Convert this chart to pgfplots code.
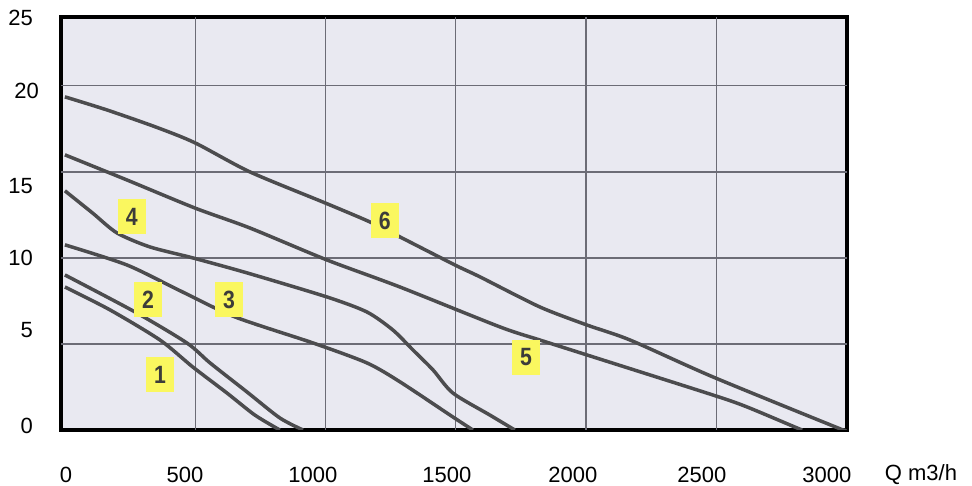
\documentclass[border=0pt]{standalone}
\usepackage{pgfplots}
\pgfplotsset{compat=1.18}
\usepackage{fontspec}
\setmainfont{Liberation Sans}

\definecolor{paper}{RGB}{233,233,241}
\definecolor{gridc}{RGB}{108,108,118}
\definecolor{curve}{RGB}{76,76,78}
\definecolor{tag}{RGB}{250,247,95}
\definecolor{tagtxt}{RGB}{60,60,58}

\newcommand{\tagnum}[1]{\scalebox{0.85}[1]{\bfseries #1}}
\tikzset{tagbox/.style={fill=tag, minimum width=28pt, minimum height=35pt,
    inner sep=0pt, text=tagtxt, font=\fontsize{25}{25}\selectfont}}
\pgfplotsset{pump/.style={curve, line width=3.5pt, smooth, tension=0.45}}

\begin{document}
\begin{tikzpicture}
\useasboundingbox (-61.5pt,-56pt) rectangle (910.5pt,430pt);
\begin{axis}[
    at={(0,0)}, anchor=south west,
    scale only axis, width=785.5pt, height=413pt,
    xmin=-13, xmax=3002, ymin=0, ymax=24,
    axis background/.style={fill=paper},
    axis line style={line width=4pt, black},
    major tick length=0pt,
    xtick={4,461,952,1466,1950,2445,2925},
    xticklabels={0,500,1000,1500,2000,2500,3000},
    ytick={0.23,5.81,10,14.19,19.7,23.95},
    yticklabels={0,5,10,15,20\hspace*{-6pt},25},
    xticklabel style={font=\fontsize{22}{26}\selectfont, anchor=center, yshift=-45pt},
    yticklabel style={font=\fontsize{22}{26}\selectfont, anchor=east, inner sep=0pt, xshift=-28.5pt},
    extra x ticks={500,1000,1500,2000,2500},
    extra x tick labels={},
    extra y ticks={5,10,15,20},
    extra y tick labels={},
    extra tick style={grid=major, major grid style={gridc, line width=1.3pt}},
]
% 1
\addplot[pump] coordinates {
    (0,8.31) (173,6.98) (365,5.23) (491,3.66) (622,2.15) (729,0.87) (825,0)
};
% 2
\addplot[pump] coordinates {
    (0,9.01) (269,6.86) (468,5.06) (557,3.9) (699,2.21) (825,0.7) (914,0)
};
% 3
\addplot[pump] coordinates {
    (0,10.76) (238,9.59) (441,8.1) (653,6.57) (952,5.06) (1159,3.9)
    (1286,2.8) (1489,0.76) (1566,0)
};
% 4
\addplot[pump] coordinates {
    (0,13.9) (107,12.6) (200,11.45) (326,10.64) (491,10.0) (699,9.13)
    (1006,7.73) (1159,6.86) (1259,5.81) (1336,4.65) (1413,3.49)
    (1489,2.15) (1631,0.87) (1727,0)
};
% 5
\addplot[pump] coordinates {
    (0,15.99) (238,14.53) (499,12.9) (710,11.74) (1006,9.88) (1286,8.31)
    (1670,5.99) (1823,5.23) (2004,4.36) (2488,2.03) (2618,1.34) (2810,0.12) (2830,0)
};
% 6
\addplot[pump] coordinates {
    (0,19.36) (161,18.6) (350,17.6) (499,16.69) (710,15.0) (998,13.2) (1171,12.09)
    (1286,11.22) (1497,9.59) (1593,8.9) (1823,7.15) (2004,6.1) (2169,5.23)
    (2488,3.08) (2967,0.12) (2990,0)
};
\node[tagbox] at (axis cs:365,3.2) {\tagnum{1}};
\node[tagbox] at (axis cs:319,7.56) {\tagnum{2}};
\node[tagbox] at (axis cs:630,7.56) {\tagnum{3}};
\node[tagbox] at (axis cs:257,12.38) {\tagnum{4}};
\node[tagbox] at (axis cs:1770,4.24) {\tagnum{5}};
\node[tagbox] at (axis cs:1228,12.15) {\tagnum{6}};
\end{axis}
\node[font=\fontsize{22}{26}\selectfont, anchor=center] at (859.5pt,-45pt) {Q m3/h};
\end{tikzpicture}
\end{document}
